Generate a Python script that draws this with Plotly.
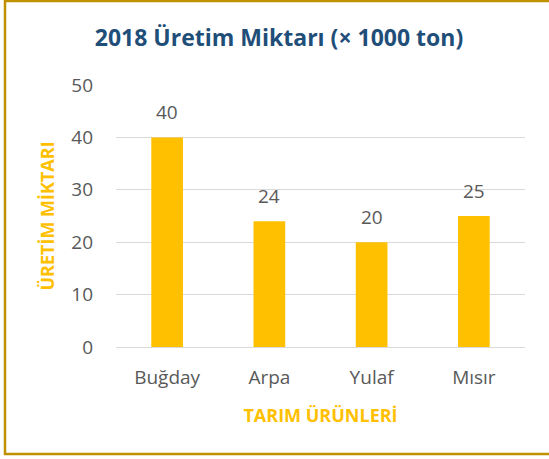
"""2018 crop production bar chart."""

import plotly.graph_objects as go

CATEGORIES = ["Buğday", "Arpa", "Yulaf", "Mısır"]
VALUES = [40, 24, 20, 25]
Y_TICKS = [0, 10, 20, 30, 40, 50]

BAR_COLOR = "#FFC000"
TEXT_GRAY = "#595959"
TITLE_BLUE = "#1F4E79"
BORDER_GOLD = "#BF9000"
FONT = "Open Sans"

figure = go.Figure(
    go.Bar(
        x=CATEGORIES,
        y=VALUES,
        marker={"color": BAR_COLOR, "line": {"width": 0}},
        hovertemplate="<b>%{x}</b><br>%{y}<extra></extra>",
    )
)

for name, value in zip(CATEGORIES, VALUES):
    figure.add_annotation(
        x=name,
        y=value,
        text=str(value),
        showarrow=False,
        yanchor="middle",
        yshift=25,
        font={"family": FONT, "size": 19, "color": TEXT_GRAY},
    )

# outer chart border (runs past the right edge like the original)
figure.add_shape(
    type="rect",
    xref="paper",
    yref="paper",
    x0=-0.2714,
    x1=1.08,
    y0=-0.4084,
    y1=1.3206,
    line={"color": BORDER_GOLD, "width": 2.5},
    layer="below",
)

figure.update_layout(
    width=549,
    height=459,
    margin={"l": 116, "r": 24, "t": 85, "b": 112},
    paper_bgcolor="white",
    plot_bgcolor="white",
    bargap=0.69,
    showlegend=False,
    font={"family": FONT, "color": TEXT_GRAY},
    title={
        "text": "<b>2018 Üretim Miktarı (× 1000 ton)</b>",
        "x": 279 / 549,
        "xanchor": "center",
        "y": 1 - 38 / 459,
        "yanchor": "middle",
        "font": {"family": FONT, "size": 23, "color": TITLE_BLUE},
    },
    xaxis={
        "showgrid": False,
        "showline": True,
        "linecolor": "#D9D9D9",
        "linewidth": 1,
        "ticks": "",
        "tickfont": {"family": FONT, "size": 19, "color": TEXT_GRAY},
        "ticklabelstandoff": 13,
        "title": {
            "text": "<b>TARIM ÜRÜNLERİ</b>",
            "font": {"family": FONT, "size": 18, "color": BAR_COLOR},
            "standoff": 20,
        },
    },
    yaxis={
        "range": [0, 50],
        "tickvals": Y_TICKS,
        "showgrid": True,
        "gridcolor": "#D9D9D9",
        "gridwidth": 1,
        "zeroline": False,
        "showline": False,
        "ticks": "",
        "tickfont": {"family": FONT, "size": 19, "color": TEXT_GRAY},
        "ticklabelstandoff": 22,
        "title": {
            "text": "<b>ÜRETİM MİKTARI</b>",
            "font": {"family": FONT, "size": 18, "color": BAR_COLOR},
            "standoff": 11,
        },
    },
)

# drop the default page margin so the chart sits at the window origin
figure.write_html(
    "out.html",
    config={"displayModeBar": False},
    post_script="document.body.style.margin = '0';",
)
